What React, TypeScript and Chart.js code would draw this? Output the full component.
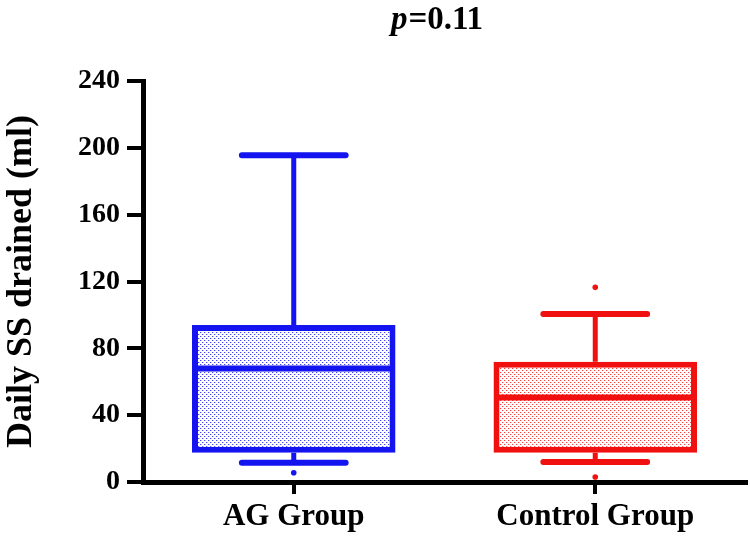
import React, { useEffect, useRef } from "react";
import { Chart, registerables } from "chart.js";

Chart.register(...registerables);

const categories = ["AG Group", "Control Group"];
const q1Values = [17.5, 17.5];
const q3Values = [94, 72];
const medianValues = [68, 50.5];
const whiskerLow = [11.5, 12];
const whiskerHigh = [195.5, 100.5];
const outlierPoints = [
  { x: "AG Group", y: 5.5 },
  { x: "Control Group", y: 116.5 },
  { x: "Control Group", y: 3 },
];
const outlierColors = ["#1414f0", "#f01010", "#f01010"];
const yTickValues = [0, 40, 80, 120, 160, 200, 240];
const titleItalic = "p";
const titleRest = "=0.11";
const yTitle = "Daily SS drained (ml)";

const BLUE = "#1414f0";
const RED = "#f01010";
const SERIF = "'Liberation Serif', 'Times New Roman', serif";

function makePattern(color: string): CanvasPattern | string {
  const c = document.createElement("canvas");
  c.width = 4;
  c.height = 4;
  const g = c.getContext("2d");
  if (!g) return "#fff";
  g.fillStyle = "#ffffff";
  g.fillRect(0, 0, 4, 4);
  g.fillStyle = color;
  g.globalAlpha = 0.8;
  g.fillRect(0, 0, 1, 1);
  g.fillRect(2, 2, 1, 1);
  g.globalAlpha = 0.25;
  g.fillRect(1, 0, 1, 1);
  g.fillRect(3, 2, 1, 1);
  const p = g.createPattern(c, "repeat");
  return p || "#fff";
}

const boxPlugin = {
  id: "boxExtras",
  afterDatasetsDraw(chart: any) {
    const ctx = chart.ctx;
    const xs = chart.scales.x;
    const ys = chart.scales.y;
    const meta = chart.getDatasetMeta(0);
    const colors = [BLUE, RED];
    categories.forEach((_, i) => {
      const bar = meta.data[i];
      if (!bar) return;
      const cx = xs.getPixelForValue(i);
      const w = bar.width;
      ctx.save();
      ctx.strokeStyle = colors[i];
      // median
      ctx.lineWidth = 6;
      ctx.lineCap = "butt";
      ctx.beginPath();
      const ym = ys.getPixelForValue(medianValues[i]);
      ctx.moveTo(cx - w / 2 + 2, ym);
      ctx.lineTo(cx + w / 2 - 2, ym);
      ctx.stroke();
      // whiskers
      const capHalf = w * 0.255;
      const yq3 = ys.getPixelForValue(q3Values[i]);
      const yq1 = ys.getPixelForValue(q1Values[i]);
      const yHi = ys.getPixelForValue(whiskerHigh[i]);
      const yLo = ys.getPixelForValue(whiskerLow[i]);
      ctx.lineWidth = 5;
      ctx.beginPath();
      ctx.moveTo(cx, yq3);
      ctx.lineTo(cx, yHi);
      ctx.moveTo(cx, yq1);
      ctx.lineTo(cx, yLo);
      ctx.stroke();
      ctx.lineCap = "round";
      ctx.lineWidth = 6;
      ctx.beginPath();
      ctx.moveTo(cx - capHalf, yHi);
      ctx.lineTo(cx + capHalf, yHi);
      ctx.moveTo(cx - capHalf, yLo);
      ctx.lineTo(cx + capHalf, yLo);
      ctx.stroke();
      ctx.restore();
    });
  },
  afterDraw(chart: any) {
    const ctx = chart.ctx;
    const area = chart.chartArea;
    ctx.save();
    ctx.fillStyle = "#000";
    ctx.textBaseline = "alphabetic";
    const fItalic = `italic bold 33px ${SERIF}`;
    const fBold = `bold 33px ${SERIF}`;
    ctx.font = fItalic;
    const w1 = ctx.measureText(titleItalic).width;
    ctx.font = fBold;
    const w2 = ctx.measureText(titleRest).width;
    const cx = (area.left + area.right) / 2 - 8;
    const x0 = cx - (w1 + w2) / 2;
    ctx.font = fItalic;
    ctx.fillText(titleItalic, x0, 29);
    ctx.font = fBold;
    ctx.fillText(titleRest, x0 + w1 + 1, 29);
    ctx.restore();
  },
};

export default function App() {
  const ref = useRef<HTMLCanvasElement | null>(null);
  useEffect(() => {
    if (!ref.current) return;
    const bluePat = makePattern(BLUE);
    const redPat = makePattern(RED);
    const chart = new Chart(ref.current, {
      type: "bar",
      data: {
        labels: categories,
        datasets: [
          {
            type: "bar",
            data: categories.map((_, i) => [q1Values[i], q3Values[i]]) as any,
            backgroundColor: [bluePat, redPat] as any,
            borderColor: [BLUE, RED],
            borderWidth: 6,
            borderSkipped: false,
            barPercentage: 0.675,
            categoryPercentage: 1,
            order: 2,
          },
          {
            type: "line",
            data: outlierPoints as any,
            showLine: false,
            pointRadius: 2.8,
            pointBorderWidth: 0,
            pointBackgroundColor: outlierColors,
            pointBorderColor: outlierColors,
            order: 1,
          } as any,
        ],
      },
      options: {
        responsive: false,
        animation: false,
        events: [],
        layout: { padding: { top: 81, right: 0, left: 0, bottom: 0 } },
        plugins: {
          legend: { display: false },
          tooltip: { enabled: false },
          title: { display: false },
        },
        scales: {
          x: {
            type: "category",
            offset: true,
            grid: {
              display: true,
              offset: false,
              drawOnChartArea: false,
              drawTicks: true,
              tickLength: 12,
              lineWidth: 4,
              color: "#000",
            },
            border: { display: true, color: "#000", width: 5 },
            ticks: {
              color: "#000",
              padding: 4,
              font: { family: SERIF, size: 31, weight: "bold" },
            },
            afterFit(scale: any) {
              scale.height = 74;
            },
          },
          y: {
            min: 0,
            max: 240,
            afterBuildTicks(scale: any) {
              scale.ticks = yTickValues.map((v) => ({ value: v }));
            },
            grid: {
              display: true,
              drawOnChartArea: false,
              drawTicks: true,
              tickLength: 16,
              lineWidth: 4,
              color: "#000",
            },
            border: { display: true, color: "#000", width: 5 },
            ticks: {
              color: "#000",
              padding: 7,
              font: { family: SERIF, size: 28, weight: "bold" },
            },
            title: {
              display: true,
              text: yTitle,
              color: "#000",
              padding: { top: 0, bottom: 0 },
              font: { family: SERIF, size: 36, weight: "bold" },
            },
            afterFit(scale: any) {
              scale.width = 143;
            },
          },
        },
      },
      plugins: [boxPlugin],
    } as any);
    return () => chart.destroy();
  }, []);
  return (
    <div style={{ position: "absolute", left: 0, top: 0, width: 750, height: 556, background: "#fff" }}>
      <canvas ref={ref} width={750} height={556} />
    </div>
  );
}
